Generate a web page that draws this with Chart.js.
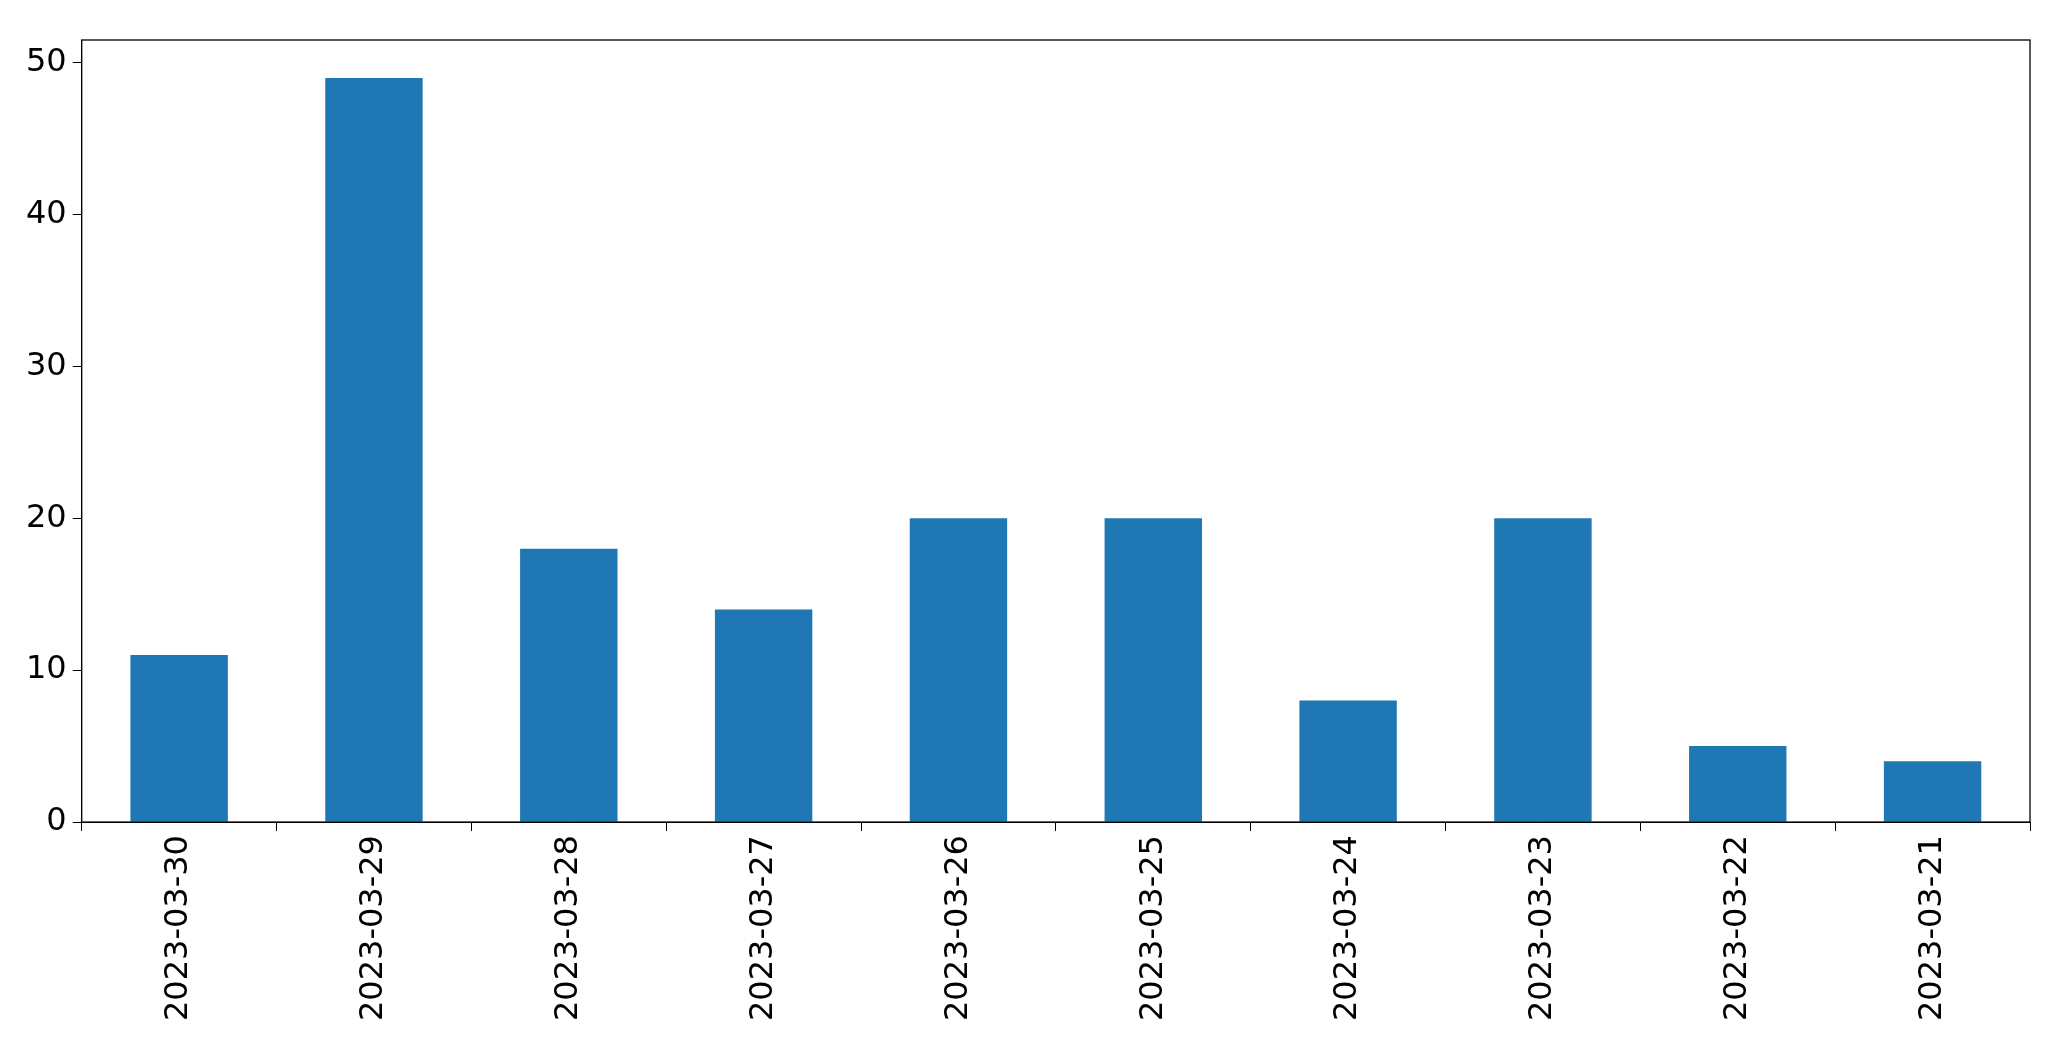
<!DOCTYPE html>
<html>
<head>
<meta charset="utf-8">
<script src="https://cdn.jsdelivr.net/npm/chart.js@4"></script>
<style>
  body { margin: 0; background: #fff; }
</style>
</head>
<body>
<canvas id="chart" width="2071" height="1061"></canvas>
<script>
const dates = ["2023-03-30", "2023-03-29", "2023-03-28", "2023-03-27", "2023-03-26",
  "2023-03-25", "2023-03-24", "2023-03-23", "2023-03-22", "2023-03-21"];
const counts = [11, 49, 18, 14, 20, 20, 8, 20, 5, 4];
const yTicks = [0, 10, 20, 30, 40, 50];

// cadre noir autour de la zone de tracé
const frame = {
  id: "frame",
  afterDraw(chart) {
    const { ctx, chartArea: a } = chart;
    ctx.save();
    ctx.strokeStyle = "#000";
    ctx.lineWidth = 1.3;
    ctx.strokeRect(a.left, a.top, a.right - a.left, a.bottom - a.top);
    ctx.restore();
  },
};

const font = { family: "DejaVu Sans", size: 32 };

new Chart(document.getElementById("chart").getContext("2d"), {
  type: "bar",
  data: {
    labels: dates,
    datasets: [{
      data: counts,
      backgroundColor: "#1f77b4",
      barPercentage: 0.5,
      categoryPercentage: 1.0,
    }],
  },
  options: {
    responsive: false,
    animation: false,
    layout: { padding: { left: 20, right: 41, top: 40, bottom: 36 } },
    plugins: { legend: { display: false }, tooltip: { enabled: false } },
    scales: {
      x: {
        offset: true,
        grid: { drawOnChartArea: false, tickLength: 9, color: "#000" },
        border: { color: "#000" },
        ticks: { color: "#000", font, maxRotation: 90, minRotation: 90, padding: 4 },
      },
      y: {
        min: 0,
        max: 51.5,
        afterBuildTicks: (axis) => {
          axis.ticks = yTicks.map((v) => ({ value: v }));
        },
        grid: { drawOnChartArea: false, tickLength: 9, color: "#000" },
        border: { color: "#000" },
        ticks: { color: "#000", font, padding: 6 },
      },
    },
  },
  plugins: [frame],
});
</script>
</body>
</html>
